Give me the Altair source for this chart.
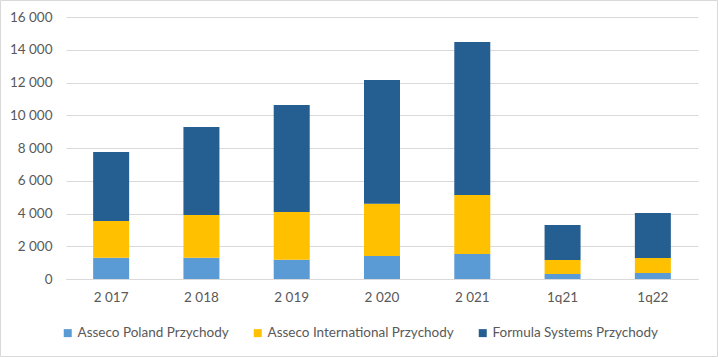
import altair as alt
import pandas as pd

categories = ["2 017", "2 018", "2 019", "2 020", "2 021", "1q21", "1q22"]
series = ["Asseco Poland Przychody", "Asseco International Przychody", "Formula Systems Przychody"]
poland = [1303, 1303, 1180, 1405, 1527, 305, 366]
international = [2239, 2605, 2912, 3195, 3603, 855, 916]
formula = [4214, 5374, 6534, 7553, 9343, 2138, 2749]
colors = ["#5B9BD5", "#FFC000", "#255E91"]
y_ticks = [0, 2000, 4000, 6000, 8000, 10000, 12000, 14000, 16000]

rows = []
for i, c in enumerate(categories):
    for j, (s, vals) in enumerate(zip(series, [poland, international, formula])):
        rows.append({"cat": c, "series": s, "value": vals[i], "ord": j})
df = pd.DataFrame(rows)

FONT = "Lato"
GREY = "#595959"
FS = 13.5

bars = alt.Chart(df).mark_bar(size=36).encode(
    x=alt.X("cat:N", sort=categories, title=None,
            scale=alt.Scale(paddingInner=0.6, paddingOuter=0.3),
            axis=alt.Axis(labelAngle=0, ticks=False, domain=True, domainColor="#D9D9D9",
                          labelFont=FONT, labelFontSize=FS, labelColor=GREY, labelPadding=11)),
    y=alt.Y("value:Q", stack="zero", title=None,
            scale=alt.Scale(domain=[0, 16000], nice=False),
            axis=alt.Axis(values=y_ticks, ticks=False, domain=False, gridColor="#D9D9D9",
                          labelFont=FONT, labelFontSize=FS, labelColor=GREY, labelPadding=14,
                          labelExpr="replace(format(datum.value, ','), ',', ' ')")),
    color=alt.Color("series:N", sort=series,
                    scale=alt.Scale(domain=series, range=colors),
                    legend=alt.Legend(title=None, orient="none", direction="horizontal",
                                      legendX=-5, legendY=309, padding=0,
                                      symbolType="square", symbolSize=64, symbolStrokeWidth=0,
                                      labelFont=FONT, labelFontSize=FS, labelColor=GREY,
                                      labelLimit=0, columnPadding=22, labelOffset=3)),
    order=alt.Order("ord:Q", sort="ascending"),
)

border = alt.Chart(pd.DataFrame({"a": [0]})).mark_rect(
    fill=None, stroke="#D9D9D9", strokeWidth=1
).encode(x=alt.value(-65.5), x2=alt.value(651.5), y=alt.value(-16.5), y2=alt.value(339.5))

chart = alt.layer(bars, border).properties(
    width=632, height=262,
    autosize=alt.AutoSizeParams(type="none"),
    padding={"left": 66, "top": 17, "right": 20, "bottom": 78},
    background="white",
).configure_view(stroke=None)

chart.save("out.html", embed_options={"renderer": "svg", "actions": False})
